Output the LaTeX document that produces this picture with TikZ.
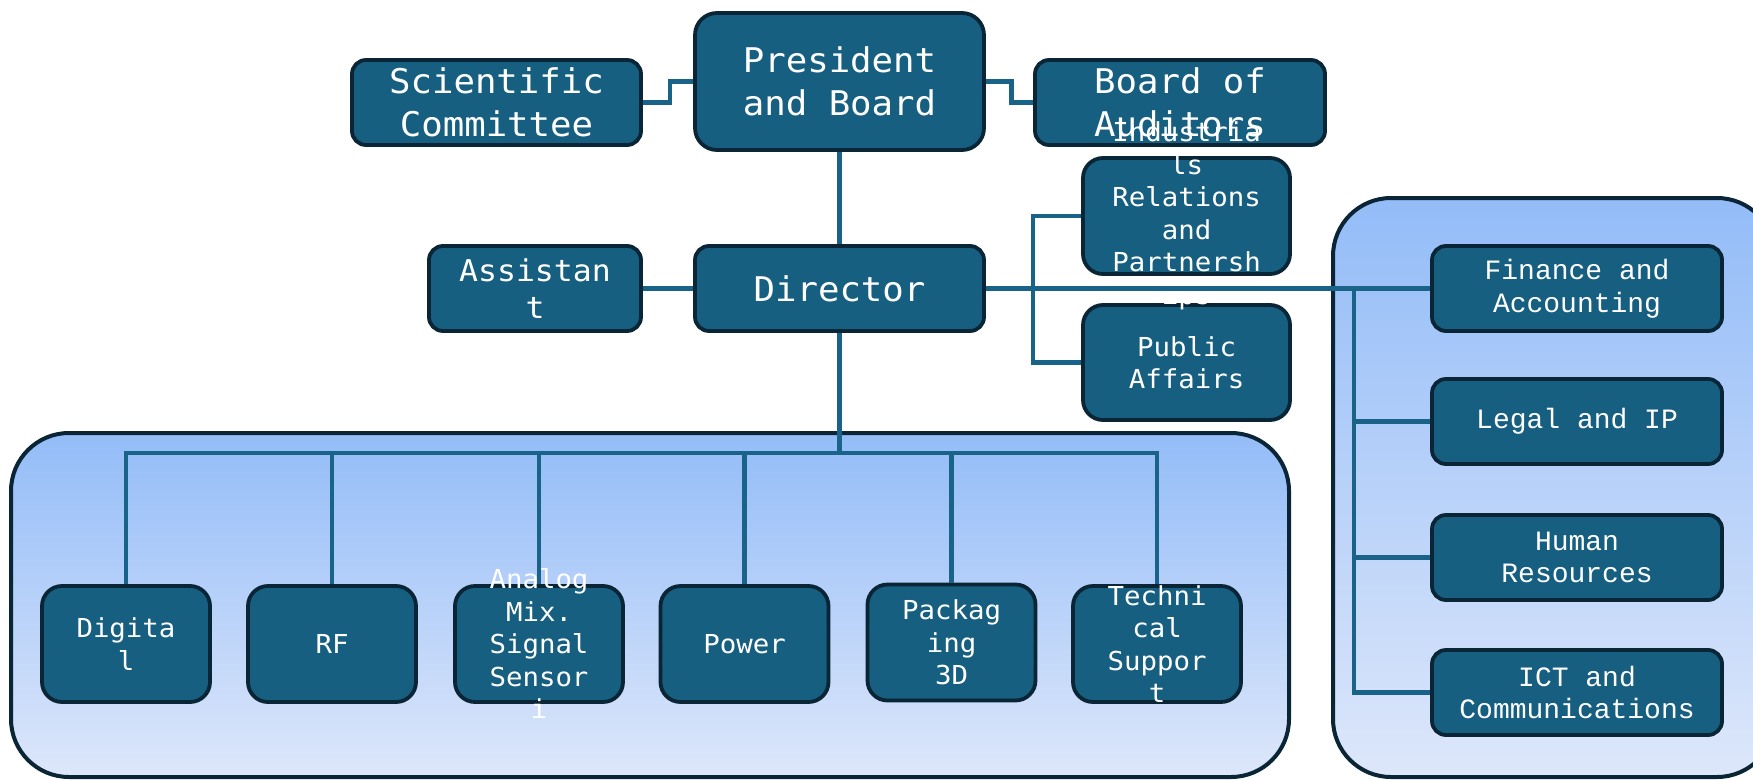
\documentclass[tikz,border=0pt]{standalone}
\usepackage{fontspec}
\newfontfamily\narrowfont[FakeStretch=1.05]{DejaVu Sans Mono}
\newfontfamily\widefont{Liberation Mono}
\definecolor{boxfill}{RGB}{23,95,128}
\definecolor{boxborder}{RGB}{10,37,53}
\definecolor{linecol}{RGB}{26,99,136}
\definecolor{grptop}{RGB}{147,188,248}
\definecolor{grpbot}{RGB}{221,231,250}
\tikzset{
  box/.style={draw=boxborder, fill=boxfill, line width=3.8pt, rounded corners=14pt, inner sep=0pt, rectangle},
  bigbox/.style={box, rounded corners=22pt},
  tallbox/.style={box, rounded corners=20pt},
  grp/.style={draw=boxborder, line width=4pt, rounded corners=58pt, top color=grptop, bottom color=grpbot, inner sep=0pt, rectangle},
  conn/.style={draw=linecol, line width=4.5pt},
  lgtxt/.style={text=white, inner sep=0pt, align=center, font=\narrowfont\fontsize{34}{43.3}\selectfont},
  mdtxt/.style={text=white, inner sep=0pt, align=center, font=\narrowfont\fontsize{30}{36.7}\selectfont},
  smtxt/.style={text=white, inner sep=0pt, align=center, font=\narrowfont\fontsize{26.1}{32.5}\selectfont},
  wdtxt/.style={text=white, inner sep=0pt, align=center, font=\widefont\fontsize{28}{32.7}\selectfont},
}
\begin{document}
\begin{tikzpicture}[x=1pt,y=-1pt]
\useasboundingbox (0,0) rectangle (1753,779);
% group containers
\node[grp, minimum width=1278pt, minimum height=344pt] (leftgrp) at (650,605) {};
\node[grp, minimum width=442pt, minimum height=579pt] (rightgrp) at (1554,487.5) {};
% top row
\node[bigbox, minimum width=289pt, minimum height=137pt] (pres) at (839.5,81.5) {};
\node[box, minimum width=289pt, minimum height=85pt] (sci) at (496.5,102.5) {};
\node[box, minimum width=290pt, minimum height=85pt] (board) at (1180,102.5) {};
\node[lgtxt] (presT) at (pres) {President\\and Board};
\node[lgtxt] (sciT) at (sci) {Scientific\\Committee};
\node[lgtxt] (boardT) at (board) {Board of\\Auditors};
% second row
\node[box, minimum width=212pt, minimum height=85pt] (asst) at (535,288.5) {};
\node[box, minimum width=289pt, minimum height=85pt] (dir) at (839.5,288.5) {};
\node[tallbox, minimum width=207pt, minimum height=116pt] (indus) at (1186.5,216) {};
\node[tallbox, minimum width=207pt, minimum height=115pt] (pub) at (1186.5,362.5) {};
\node[mdtxt] (asstT) at (asst) {Assistan\\t};
\node[lgtxt] (dirT) at (dir) {Director};
\node[smtxt] (indusT) at (indus) {Industria\\ls\\Relations\\and\\Partnersh\\ips};
\node[smtxt] (pubT) at (pub) {Public\\Affairs};
% right column
\node[box, minimum width=290pt, minimum height=85pt] (fin) at (1577,288.5) {};
\node[box, minimum width=290pt, minimum height=85pt] (legal) at (1577,421.5) {};
\node[box, minimum width=290pt, minimum height=85pt] (human) at (1577,557.5) {};
\node[box, minimum width=290pt, minimum height=85pt] (ict) at (1577,692.5) {};
\node[wdtxt] (finT) at (fin) {Finance and\\Accounting};
\node[wdtxt] (legalT) at (legal) {Legal and IP};
\node[wdtxt] (humanT) at (human) {Human\\Resources};
\node[wdtxt] (ictT) at (ict) {ICT and\\Communications};
% bottom row
\node[tallbox, minimum width=168pt, minimum height=116pt] (dig) at (126,644) {};
\node[tallbox, minimum width=168pt, minimum height=116pt] (rf) at (332,644) {};
\node[tallbox, minimum width=168pt, minimum height=116pt] (ana) at (539,644) {};
\node[tallbox, minimum width=168pt, minimum height=116pt] (pow) at (744.5,644) {};
\node[tallbox, minimum width=168pt, minimum height=116pt] (pack) at (951.5,642.5) {};
\node[tallbox, minimum width=168pt, minimum height=116pt] (tech) at (1157,644) {};
\node[smtxt] (digT) at (dig) {Digita\\l};
\node[smtxt] (rfT) at (rf) {RF};
\node[smtxt] (anaT) at (ana) {Analog\\Mix.\\Signal\\Sensor\\i};
\node[smtxt] (powT) at (pow) {Power};
\node[smtxt] (packT) at (pack) {Packag\\ing\\3D};
\node[smtxt] (techT) at (tech) {Techni\\cal\\Suppor\\t};
% connectors
\coordinate (bus) at (839.5,453);
\coordinate (mb) at (1033,0);
\coordinate (rb) at (1354,0);
\draw[conn] (sci.east) -- ++(27,0) |- (pres.west);
\draw[conn] (pres.east) -- ++(25.5,0) |- (board.west);
\draw[conn] (pres.south) -- (dir.north);
\draw[conn] (asst.east) -- (dir.west);
\draw[conn] (dir.east) -- (fin.west);
\draw[conn] (indus.west) -- (indus.west -| mb) -- (pub.west -| mb) -- (pub.west);
\draw[conn] (rb |- fin.west) -- (rb |- ict.west) -- (ict.west);
\draw[conn] (legal.west) -- (legal.west -| rb);
\draw[conn] (human.west) -- (human.west -| rb);
\draw[conn] (dir.south) -- (bus);
\draw[conn] (dig.north) -- (dig.north |- bus) -- (tech.north |- bus) -- (tech.north);
\foreach \n in {rf,ana,pow,pack} \draw[conn] (\n.north) -- (\n.north |- bus);
\end{tikzpicture}
\end{document}
